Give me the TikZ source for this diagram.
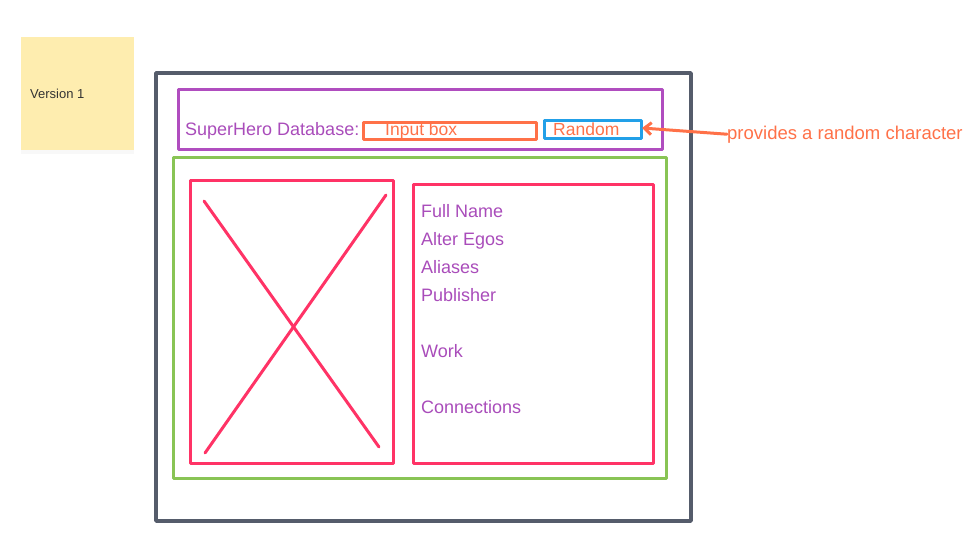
\documentclass[tikz,border=0pt]{standalone}
\usepackage{fontspec}
\setmainfont{Liberation Sans}
\usetikzlibrary{arrows.meta,shadows}

\definecolor{framegray}{HTML}{555C6B}
\definecolor{headpurple}{HTML}{B04DBF}
\definecolor{textpurple}{HTML}{A94CBA}
\definecolor{inorange}{HTML}{FF7148}
\definecolor{randblue}{HTML}{22A0E8}
\definecolor{bodygreen}{HTML}{89C455}
\definecolor{boxpink}{HTML}{FF3366}
\definecolor{notey}{HTML}{FEEDAF}

\begin{document}
\begin{tikzpicture}[
    x=1pt, y=-1pt,
    box/.style={rectangle, draw=#1, line width=3pt, line join=round, inner sep=0pt, outer sep=0pt},
    label text/.style={font=\fontsize{18}{21}\selectfont, text=#1, inner sep=0pt},
    field/.style={label text=textpurple, anchor=base west}
]

% Canvas
\useasboundingbox (0,0) rectangle (977,557);

% Sticky note
\node[fill=notey, minimum width=113pt, minimum height=113pt, inner sep=0pt,
      drop shadow={opacity=0.06, shadow xshift=0pt, shadow yshift=-4pt}] (note) at (77.5,93.5) {};
\node[font=\fontsize{13}{15}\selectfont, text=black!80, anchor=base west, inner sep=0pt] (version) at (30,98.7) {Version 1};

% Window frame
\node[box=framegray, line width=3.5pt, minimum width=535pt, minimum height=448pt] (frame) at (423.5,297) {};

% Header bar
\node[box=headpurple, minimum width=484pt, minimum height=60pt] (header) at (420,119) {};
\node[label text=textpurple, anchor=base west] (title) at (185,135) {SuperHero Database:};
\node[box=inorange, minimum width=173pt, minimum height=17pt] (input) at (449.5,130.5) {};
\node[label text=inorange, font=\fontsize{17.5}{20}\selectfont, anchor=base west] (inputtext) at (385,135) {Input box};
\node[box=randblue, minimum width=97pt, minimum height=18pt] (random) at (592.5,129) {};
\node[label text=inorange, font=\fontsize{17.5}{20}\selectfont, anchor=base west] (randomtext) at (553,135) {Random};

% Annotation
\node[label text=inorange, font=\fontsize{18.5}{21}\selectfont, anchor=base west] (hint) at (727,139) {provides a random character};
\draw[inorange, line width=3pt, line cap=round, -{Straight Barb[length=7pt, width=12pt]}]
    (hint.west) -- ([xshift=1pt, yshift=1pt]random.east);

% Body
\node[box=bodygreen, minimum width=493pt, minimum height=321pt] (body) at (419.5,317.5) {};

% Picture placeholder
\node[box=boxpink, minimum width=203pt, minimum height=283pt] (pic) at (291.5,321.5) {};
\coordinate (x1) at (204,201);
\coordinate (x2) at (379,447);
\coordinate (x3) at (386,195);
\coordinate (x4) at (205,453);
\draw[boxpink, line width=3pt, line cap=round] (x1) -- (x2);
\draw[boxpink, line width=3pt, line cap=round] (x3) -- (x4);

% Info panel
\node[box=boxpink, minimum width=240pt, minimum height=279pt] (info) at (533,323.5) {};
\foreach \name/\row in {Full Name/0, Alter Egos/1, Aliases/2, Publisher/3, Work/5, Connections/7} {
    \node[field] (f\row) at (421,217.5+28*\row) {\name};
}

\end{tikzpicture}
\end{document}
